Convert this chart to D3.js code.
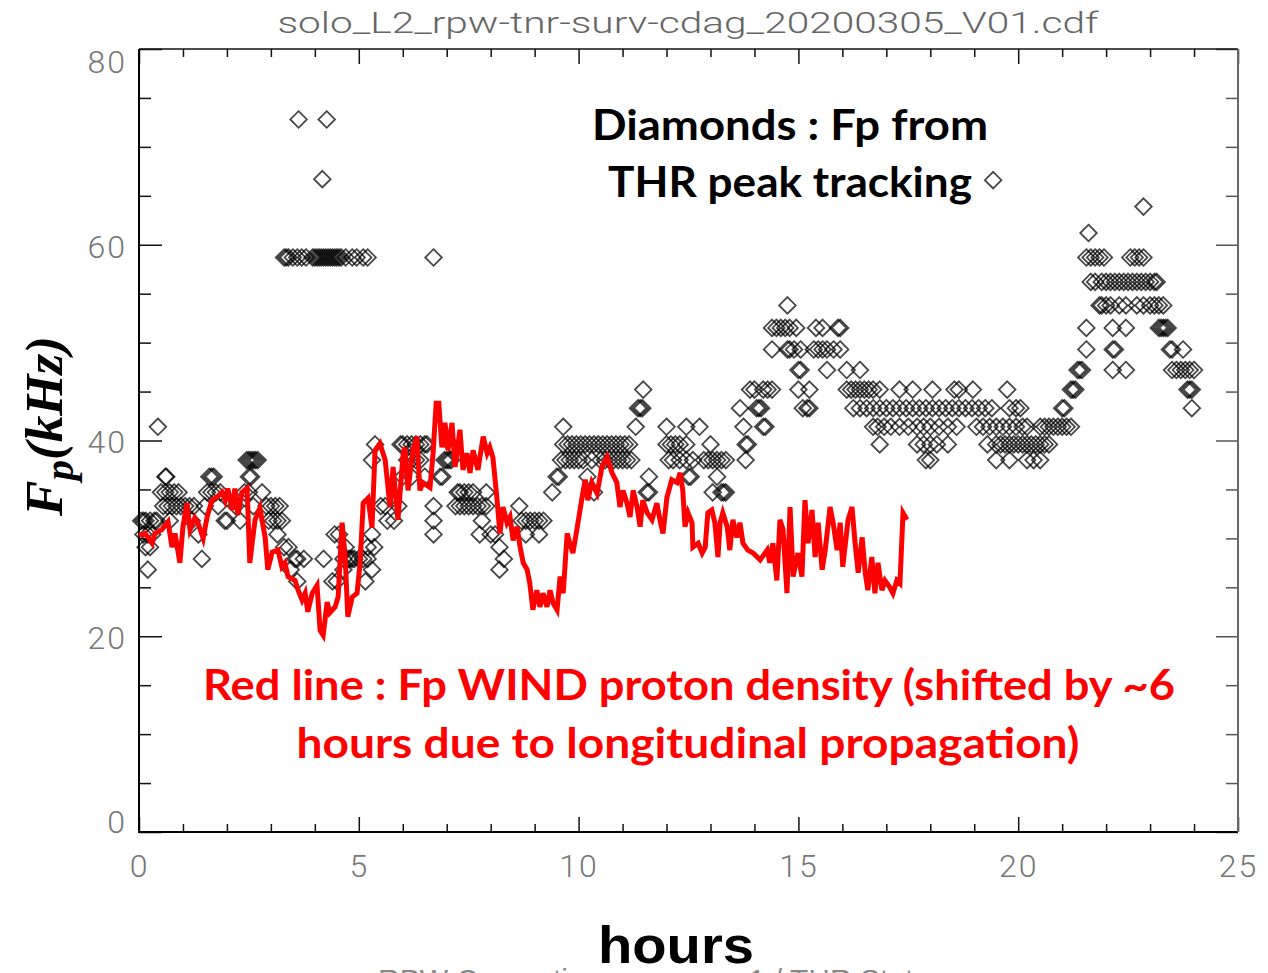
<!DOCTYPE html>
<html>
<head>
<meta charset="utf-8">
<style>
  body { margin: 0; background: #fff; overflow: hidden; }
  svg { display: block; }
</style>
</head>
<body>
<script src="https://d3js.org/d3.v7.min.js"></script>
<script>

var titleText = 'solo_L2_rpw-tnr-surv-cdag_20200305_V01.cdf';
var xMajor = [0, 5, 10, 15, 20, 25];
var yMajor = [0, 20, 40, 60, 80];

// WIND proton density converted to Fp (kHz), shifted by ~6 h  [hour, kHz]
var windFp = [
  [0.00,30.3],[0.14,30.5],[0.30,29.5],[0.36,30.5],[0.52,30.9],[0.66,31.7],[0.75,29.1],[0.82,30.5],
  [0.93,27.5],[1.00,31.2],[1.09,33.6],[1.16,30.9],[1.27,32.1],[1.34,31.6],[1.46,30.0],[1.55,32.2],
  [1.66,33.9],[1.77,34.2],[1.89,34.7],[1.96,33.9],[2.02,35.1],[2.12,32.9],[2.18,35.1],[2.25,32.4],
  [2.34,34.7],[2.46,35.1],[2.52,27.5],[2.64,31.9],[2.75,33.1],[2.87,30.1],[2.93,26.8],[3.03,28.6],
  [3.16,28.8],[3.25,27.1],[3.32,27.5],[3.39,26.1],[3.55,25.7],[3.62,24.7],[3.71,23.7],[3.78,24.4],
  [3.84,22.5],[3.94,24.4],[4.05,25.2],[4.12,20.6],[4.19,20.1],[4.28,23.5],[4.34,22.4],[4.46,23.0],
  [4.53,24.0],[4.62,31.6],[4.69,28.1],[4.75,22.0],[4.85,24.0],[4.96,24.4],[5.03,27.5],[5.10,33.6],
  [5.21,34.1],[5.30,31.1],[5.37,39.0],[5.48,39.7],[5.60,38.0],[5.71,33.2],[5.78,37.3],[5.89,31.9],
  [6.01,38.7],[6.05,39.3],[6.12,34.9],[6.23,39.0],[6.32,40.4],[6.39,34.9],[6.46,35.7],[6.62,35.2],
  [6.69,38.7],[6.76,43.8],[6.82,43.8],[6.89,39.3],[6.96,41.8],[7.03,39.0],[7.12,41.8],[7.19,37.3],
  [7.30,41.1],[7.37,37.0],[7.46,38.7],[7.53,36.7],[7.60,39.0],[7.71,37.0],[7.83,40.4],[7.92,38.7],
  [7.98,39.3],[8.05,38.3],[8.14,34.2],[8.21,30.5],[8.28,33.2],[8.37,31.6],[8.44,32.2],[8.51,29.8],
  [8.60,31.2],[8.67,29.1],[8.74,27.5],[8.83,26.8],[8.89,25.4],[8.96,22.7],[9.05,24.7],[9.12,23.0],
  [9.19,24.4],[9.28,23.0],[9.35,24.7],[9.42,23.4],[9.51,22.7],[9.58,26.1],[9.65,24.4],[9.74,30.5],
  [9.80,29.5],[9.87,28.5],[9.96,30.9],[10.08,34.2],[10.15,36.0],[10.21,33.9],[10.30,35.7],[10.42,34.6],
  [10.53,37.3],[10.65,38.3],[10.76,36.7],[10.87,35.7],[10.94,33.2],[11.01,34.9],[11.10,33.6],[11.17,32.2],
  [11.24,34.9],[11.33,33.2],[11.40,31.2],[11.46,33.9],[11.56,32.6],[11.67,31.9],[11.78,33.6],[11.85,31.9],
  [11.92,30.5],[12.01,34.2],[12.12,36.0],[12.24,35.7],[12.31,36.7],[12.37,34.9],[12.42,31.2],[12.49,32.6],
  [12.58,31.6],[12.60,29.1],[12.72,29.5],[12.81,28.5],[12.88,29.1],[12.94,32.6],[13.03,32.9],[13.10,31.6],
  [13.17,28.1],[13.22,31.6],[13.28,32.6],[13.38,31.2],[13.44,28.8],[13.51,31.9],[13.60,30.1],[13.67,31.6],
  [13.74,29.5],[13.85,28.8],[13.97,28.5],[14.13,27.8],[14.29,28.8],[14.35,27.5],[14.42,29.5],[14.51,25.7],
  [14.58,31.9],[14.65,30.9],[14.74,24.4],[14.81,33.2],[14.88,26.1],[14.99,28.5],[15.08,26.1],[15.15,33.9],
  [15.22,29.5],[15.31,32.9],[15.38,28.1],[15.45,31.6],[15.54,26.8],[15.61,28.8],[15.72,33.2],[15.79,31.6],
  [15.88,28.8],[15.95,31.6],[16.01,27.1],[16.13,31.9],[16.22,33.2],[16.29,29.5],[16.36,26.5],[16.45,30.1],
  [16.52,26.5],[16.58,24.7],[16.67,28.1],[16.74,24.4],[16.81,27.5],[16.90,24.7],[16.97,25.7],[17.08,25.0],
  [17.15,24.4],[17.24,25.7],[17.31,25.4],[17.38,32.6],[17.47,31.9]
];

// THR peak tracking Fp (kHz)  [hour, kHz]
var thrFp = [
  [0.05,31.8],[0.10,31.8],[0.15,31.8],[0.25,31.8],[0.35,31.8],[0.40,31.8],[0.10,30.4],[0.20,30.4],
  [0.30,30.4],[0.15,29.1],[0.25,29.1],[0.20,26.8],[0.43,41.4],[0.60,36.3],[0.62,36.3],
  [0.50,34.7],[0.60,34.7],[0.70,34.7],[0.80,34.7],[0.90,34.7],
  [0.55,33.3],[0.65,33.3],[0.75,33.3],[0.85,33.3],[0.95,33.3],[1.05,33.3],[1.15,33.3],[1.25,33.3],
  [0.70,31.8],[1.20,31.8],[1.35,30.4],[1.43,27.9],[1.60,36.3],[1.65,36.3],[1.70,36.3],
  [1.55,34.7],[1.65,34.7],[1.75,34.7],[1.85,34.7],[1.50,33.3],[1.80,33.3],[1.95,31.8],[2.00,31.8],
  [2.20,33.3],[2.30,31.8],
  [2.45,38.0],[2.50,38.0],[2.55,38.0],[2.60,38.0],[2.65,38.0],[2.70,38.0],[2.50,36.3],[2.55,36.3],
  [2.40,34.7],[2.50,34.7],[2.80,34.7],[2.60,33.3],[2.90,33.3],[3.00,33.3],[3.10,33.3],[3.20,33.3],
  [2.95,31.8],[3.05,31.8],[3.15,31.8],[3.25,31.8],[3.15,30.4],[3.30,29.1],[3.40,29.1],
  [3.55,27.9],[3.60,27.9],[3.75,27.9],[3.45,26.8],[3.60,25.6],
  [3.30,58.7],[3.35,58.7],[3.40,58.7],[3.50,58.7],[3.60,58.7],[3.70,58.7],[3.80,58.7],
  [3.95,58.7],[4.00,58.7],[4.05,58.7],[4.10,58.7],[4.15,58.7],[4.20,58.7],[4.25,58.7],[4.30,58.7],
  [4.35,58.7],[4.40,58.7],[4.45,58.7],[4.50,58.7],[4.55,58.7],[4.60,58.7],[4.70,58.7],
  [4.85,58.7],[4.95,58.7],[5.10,58.7],[5.20,58.7],[6.70,58.7],
  [3.63,72.8],[4.27,72.8],[4.17,66.7],
  [4.20,27.9],[4.45,30.4],[4.40,25.6],[4.50,25.6],[4.55,30.4],
  [4.65,27.9],[4.75,27.9],[4.80,27.9],[4.85,27.9],[4.90,27.9],[5.00,27.9],[5.10,27.9],[5.20,27.9],
  [4.65,26.8],[4.70,29.1],[5.15,25.6],[5.30,26.8],[5.20,29.1],[5.30,30.4],[5.35,29.1],
  [5.30,38.0],[5.37,39.6],[5.50,33.3],[5.60,33.3],[5.65,31.8],[5.80,31.8],[5.90,33.3],
  [5.95,39.6],[6.00,39.6],[6.10,39.6],[6.20,39.6],[6.30,39.6],[6.40,39.6],[6.50,39.6],[6.55,39.6],
  [6.10,38.0],[6.20,38.0],[6.30,38.0],[6.40,38.0],[6.00,36.3],[6.20,36.3],[6.50,36.3],
  [6.70,33.3],[6.70,31.8],[6.70,30.4],[6.85,36.3],[6.90,36.3],
  [6.95,38.0],[7.00,38.0],[7.05,38.0],[7.10,38.0],[7.10,39.6],
  [7.25,34.7],[7.30,34.7],[7.40,34.7],[7.50,34.7],[7.60,34.7],[7.90,34.7],
  [7.20,33.3],[7.30,33.3],[7.40,33.3],[7.50,33.3],[7.60,33.3],[7.70,33.3],[7.80,33.3],[7.90,33.3],
  [7.80,31.8],[7.75,30.4],[8.00,30.4],[8.10,30.4],[8.20,29.1],[8.30,27.9],[8.20,26.8],
  [8.65,33.3],[8.70,31.8],[8.80,31.8],[8.90,31.8],[9.00,31.8],[9.10,31.8],[9.20,31.8],
  [8.80,30.4],[9.10,30.4],
  [9.40,34.7],[9.50,36.3],[9.55,36.3],[9.60,38.0],[9.65,41.4],
  [9.65,39.6],[9.75,39.6],[9.85,39.6],[9.95,39.6],[10.05,39.6],[10.15,39.6],[10.25,39.6],[10.35,39.6],
  [10.45,39.6],[10.55,39.6],[10.65,39.6],[10.75,39.6],[10.85,39.6],[10.95,39.6],[11.05,39.6],[11.15,39.6],
  [9.70,38.0],[9.80,38.0],[9.90,38.0],[10.00,38.0],[10.10,38.0],[10.30,38.0],[10.50,38.0],[10.60,38.0],
  [10.70,38.0],[10.80,38.0],[10.90,38.0],[11.00,38.0],[11.10,38.0],[11.20,38.0],
  [10.20,36.3],[10.35,34.7],
  [11.30,41.4],[11.35,43.3],[11.40,43.3],[11.45,43.3],[11.47,45.2],
  [11.55,34.7],[11.60,34.7],[11.60,36.3],
  [12.00,41.4],[12.45,41.4],[12.75,41.4],
  [12.00,39.6],[12.10,39.6],[12.20,39.6],[12.30,39.6],[12.45,39.6],[13.00,39.6],
  [12.05,38.0],[12.15,38.0],[12.30,38.0],[12.45,38.0],[12.60,38.0],[12.85,38.0],[12.95,38.0],[13.05,38.0],
  [13.15,38.0],[13.25,38.0],[13.35,38.0],
  [12.50,36.3],[12.55,36.3],[13.15,36.3],[13.05,34.7],[13.25,34.7],[13.30,34.7],[13.35,34.7],
  [13.67,43.3],[13.75,41.4],[13.80,39.6],[13.85,39.6],[13.80,38.0],
  [13.90,45.2],[14.05,43.3],[14.10,43.3],[14.15,43.3],[14.20,41.4],[14.25,41.4],
  [14.00,45.2],[14.20,45.2],[14.30,45.2],[14.40,45.2],
  [14.75,53.8],
  [14.40,51.5],[14.50,51.5],[14.60,51.5],[14.70,51.5],[14.80,51.5],[14.95,51.5],
  [15.40,51.5],[15.55,51.5],[15.90,51.5],[15.95,51.5],
  [14.40,49.3],[14.75,49.3],[14.80,49.3],[14.90,49.3],[15.05,49.3],
  [15.35,49.3],[15.45,49.3],[15.55,49.3],[15.65,49.3],[15.80,49.3],[15.95,49.3],
  [15.00,47.2],[15.05,47.2],[15.65,47.2],[16.10,47.2],[16.40,47.2],
  [15.00,45.2],[15.25,45.2],[15.10,43.3],[15.20,43.3],[15.25,43.3],
  [16.10,45.2],[16.20,45.2],[16.30,45.2],[16.40,45.2],[16.50,45.2],[16.60,45.2],[16.70,45.2],[16.85,45.2],
  [17.30,45.2],[17.60,45.2],[18.05,45.2],[18.55,45.2],[18.65,45.2],
  [16.25,43.3],[16.40,43.3],[16.55,43.3],[16.70,43.3],[16.85,43.3],[17.00,43.3],[17.15,43.3],[17.30,43.3],
  [17.45,43.3],[17.60,43.3],[17.75,43.3],[17.90,43.3],[18.05,43.3],[18.20,43.3],[18.35,43.3],[18.50,43.3],
  [18.65,43.3],[18.80,43.3],[18.95,43.3],[19.10,43.3],[19.25,43.3],[19.40,43.3],
  [16.70,41.4],[16.80,41.4],[16.95,41.4],[17.10,41.4],[17.30,41.4],[17.50,41.4],[17.70,41.4],[17.85,41.4],
  [18.00,41.4],[18.20,41.4],[18.40,41.4],[18.60,41.4],
  [16.85,39.6],[17.70,39.6],[17.85,39.6],[18.00,39.6],[18.15,39.6],[18.40,39.6],
  [17.90,38.0],[18.00,38.0],
  [18.97,45.2],[19.75,45.2],[19.43,66.6],
  [19.80,43.3],[19.95,43.3],[20.05,43.3],
  [19.05,41.4],[19.20,41.4],[19.35,41.4],[19.50,41.4],[19.65,41.4],[19.80,41.4],[19.95,41.4],[20.10,41.4],
  [20.20,41.4],[20.50,41.4],[20.60,41.4],[20.70,41.4],[20.80,41.4],[20.90,41.4],[21.00,41.4],[21.10,41.4],
  [21.20,41.4],
  [19.30,39.6],[19.50,39.6],[19.60,39.6],[19.70,39.6],[19.80,39.6],[19.90,39.6],[20.00,39.6],[20.10,39.6],
  [20.20,39.6],[20.30,39.6],[20.40,39.6],[20.50,39.6],[20.60,39.6],[20.70,39.6],
  [19.50,38.0],[19.80,38.0],[20.20,38.0],[20.35,38.0],[20.50,38.0],
  [21.00,43.3],[21.05,43.3],[21.20,45.2],[21.25,45.2],[21.30,45.2],
  [21.35,47.2],[21.40,47.2],[21.45,47.2],[21.55,49.3],[21.55,51.5],
  [21.60,61.2],[22.85,63.9],
  [21.55,58.7],[21.65,58.7],[21.75,58.7],[21.85,58.7],[21.95,58.7],
  [22.55,58.7],[22.65,58.7],[22.75,58.7],[22.85,58.7],
  [21.65,56.2],[21.75,56.2],[21.90,56.2],[22.00,56.2],[22.10,56.2],[22.20,56.2],[22.30,56.2],[22.40,56.2],
  [22.50,56.2],[22.60,56.2],[22.70,56.2],[22.80,56.2],[22.90,56.2],[23.00,56.2],[23.10,56.2],[23.15,56.2],
  [21.85,53.8],[21.90,53.8],[22.00,53.8],[22.10,53.8],[22.30,53.8],[22.45,53.8],[22.70,53.8],[22.85,53.8],
  [23.00,53.8],[23.10,53.8],[23.20,53.8],[23.30,53.8],
  [22.15,51.5],[22.45,51.5],[23.20,51.5],[23.25,51.5],[23.30,51.5],[23.35,51.5],[23.40,51.5],
  [22.15,49.3],[22.20,49.3],[23.45,49.3],[23.50,49.3],[23.75,49.3],
  [22.15,47.2],[22.45,47.2],[23.50,47.2],[23.60,47.2],[23.70,47.2],[23.80,47.2],[23.90,47.2],[24.00,47.2],
  [23.85,45.2],[23.90,45.2],[23.95,45.2],[23.95,43.3]
];

var width = 1268, height = 973;
var plot = { left: 139, right: 1238, top: 49, bottom: 832 };

var svg = d3.select('body').append('svg')
  .attr('width', width)
  .attr('height', height)
  .style('font-family', 'Roboto, "DejaVu Sans", sans-serif');

var x = d3.scaleLinear().domain([0, 25]).range([plot.left, plot.right]);
var y = d3.scaleLinear().domain([0, 80]).range([plot.bottom, plot.top]);

var tickGray = '#777';

// title
svg.append('text')
  .attr('x', 688).attr('y', 33)
  .attr('text-anchor', 'middle')
  .attr('font-size', 30).attr('font-weight', 300)
  .attr('fill', '#666')
  .attr('textLength', 821).attr('lengthAdjust', 'spacingAndGlyphs')
  .text(titleText);

// minor ticks
var xMinor = d3.range(0, 26, 1).filter(d => d % 5 !== 0);
var yMinor = d3.range(0, 81, 5).filter(d => d % 20 !== 0);

function styleAxis(g) {
  g.select('.domain').remove();
  g.selectAll('.tick line').attr('stroke', '#111').attr('stroke-width', 1.5);
  g.selectAll('.tick text')
    .attr('fill', tickGray)
    .attr('font-size', 32)
    .attr('font-weight', 300)
    .attr('font-family', 'Roboto, "DejaVu Sans", sans-serif')
    .attr('letter-spacing', 2);
}

// bottom axis
svg.append('g').attr('transform', `translate(0,${plot.bottom})`)
  .call(d3.axisBottom(x).tickValues(xMajor).tickSizeInner(-15).tickSizeOuter(0).tickPadding(22).tickFormat(d3.format('d')))
  .call(styleAxis);
svg.append('g').attr('transform', `translate(0,${plot.bottom})`)
  .call(d3.axisBottom(x).tickValues(xMinor).tickSizeInner(-8).tickSizeOuter(0).tickFormat(''))
  .call(styleAxis);

// top axis
svg.append('g').attr('transform', `translate(0,${plot.top})`)
  .call(d3.axisTop(x).tickValues(xMajor).tickSizeInner(-15).tickSizeOuter(0).tickFormat(''))
  .call(styleAxis);
svg.append('g').attr('transform', `translate(0,${plot.top})`)
  .call(d3.axisTop(x).tickValues(xMinor).tickSizeInner(-8).tickSizeOuter(0).tickFormat(''))
  .call(styleAxis);

// left axis
var yAxisG = svg.append('g').attr('transform', `translate(${plot.left},0)`)
  .call(d3.axisLeft(y).tickValues(yMajor).tickSizeInner(-23).tickSizeOuter(0).tickPadding(12).tickFormat(d3.format('d')))
  .call(styleAxis);
yAxisG.selectAll('.tick text')
  .attr('y', d => d === 80 ? 13 : (d === 0 ? -10 : 2));
svg.append('g').attr('transform', `translate(${plot.left},0)`)
  .call(d3.axisLeft(y).tickValues(yMinor).tickSizeInner(-12).tickSizeOuter(0).tickFormat(''))
  .call(styleAxis);

// right axis
svg.append('g').attr('transform', `translate(${plot.right},0)`)
  .call(d3.axisRight(y).tickValues(yMajor).tickSizeInner(-22).tickSizeOuter(0).tickFormat(''))
  .call(styleAxis)
  .selectAll('line').attr('stroke', '#555');
svg.append('g').attr('transform', `translate(${plot.right},0)`)
  .call(d3.axisRight(y).tickValues(yMinor).tickSizeInner(-12).tickSizeOuter(0).tickFormat(''))
  .call(styleAxis)
  .selectAll('line').attr('stroke', '#555');

// frame
svg.append('path')
  .attr('d', `M${plot.left},${plot.top}H${plot.right}`)
  .attr('stroke', '#111').attr('stroke-width', 1.5).attr('fill', 'none');
svg.append('path')
  .attr('d', `M${plot.left},${plot.top}V${plot.bottom}H${plot.right}`)
  .attr('stroke', '#000').attr('stroke-width', 2).attr('fill', 'none');
svg.append('path')
  .attr('d', `M${plot.right},${plot.top}V${plot.bottom}`)
  .attr('stroke', '#666').attr('stroke-width', 2).attr('fill', 'none');

// THR diamonds
var dHalf = 8.3;
var diamond = `M0,${-dHalf}L${dHalf},0L0,${dHalf}L${-dHalf},0Z`;
svg.append('g')
  .selectAll('path')
  .data(thrFp)
  .join('path')
    .attr('d', diamond)
    .attr('transform', d => `translate(${x(d[0])},${y(d[1])})`)
    .attr('fill', 'none')
    .attr('stroke', '#000')
    .attr('stroke-opacity', 0.72)
    .attr('stroke-width', 1.8);

// WIND line
var line = d3.line()
  .x(d => x(d[0]))
  .y(d => y(d[1]));

svg.append('path')
  .datum(windFp)
  .attr('d', line)
  .attr('fill', 'none')
  .attr('stroke', '#ff0000')
  .attr('stroke-width', 5)
  .attr('stroke-linejoin', 'miter');

// annotations
var annoFont = 'Lato, "Open Sans", "Noto Sans", sans-serif';
function anno(txt, cx, by, len, color) {
  svg.append('text')
    .attr('x', cx).attr('y', by)
    .attr('text-anchor', 'middle')
    .attr('font-family', annoFont)
    .attr('font-weight', 700)
    .attr('font-size', 42)
    .attr('fill', color)
    .attr('textLength', len).attr('lengthAdjust', 'spacingAndGlyphs')
    .text(txt);
}
anno('Diamonds : Fp from', 790, 140, 396, '#000');
anno('THR peak tracking', 790, 197, 364, '#000');
anno('Red line : Fp WIND proton density (shifted by ~6', 689, 700, 972, '#ff0000');
anno('hours due to longitudinal propagation)', 688, 758, 783, '#ff0000');

// y label
var yLab = svg.append('text')
  .attr('transform', 'translate(62,426) rotate(-90)')
  .attr('text-anchor', 'middle')
  .attr('font-family', '"Liberation Serif", "DejaVu Serif", serif')
  .attr('font-style', 'italic')
  .attr('font-weight', 700)
  .attr('font-size', 52)
  .attr('fill', '#000')
  .attr('textLength', 180).attr('lengthAdjust', 'spacingAndGlyphs');
yLab.append('tspan').text('F');
yLab.append('tspan').attr('dy', 11).attr('font-size', 40).text('p');
yLab.append('tspan').attr('dy', -11).text('(kHz)');

// footer (cut off at the bottom edge, partly hidden behind the x label)
svg.append('text')
  .attr('x', 378).attr('y', 990)
  .attr('font-size', 30).attr('fill', '#888')
  .attr('font-family', '"Liberation Sans", Arial, sans-serif')
  .text('RPW Consorti');
svg.append('text')
  .attr('x', 945).attr('y', 990)
  .attr('text-anchor', 'end')
  .attr('font-size', 30).attr('fill', '#888')
  .attr('font-family', '"Liberation Sans", Arial, sans-serif')
  .text('1 / THR Status');
svg.append('text')
  .attr('x', 676).attr('y', 963)
  .attr('text-anchor', 'middle')
  .attr('font-family', '"Liberation Sans", Arial, sans-serif')
  .attr('font-weight', 700)
  .attr('font-size', 52)
  .attr('fill', '#000')
  .attr('textLength', 156).attr('lengthAdjust', 'spacingAndGlyphs')
  .text('hours');

</script>
</body>
</html>
